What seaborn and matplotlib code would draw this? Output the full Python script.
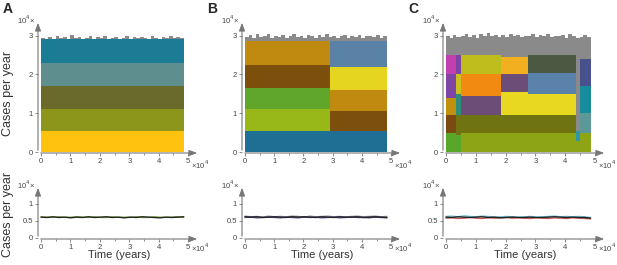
import numpy as np
import matplotlib
matplotlib.use("Agg")
import matplotlib.pyplot as plt
import seaborn as sns

# ---------------- data (units of 10^4) ----------------
# time grid of the simulations (x 10^4 years)
t_grid = np.linspace(0, 4.85, 40)

# jagged upper envelope of the stacked areas
a_top = [2.95, 2.92, 2.97, 2.90, 2.99, 2.93, 2.96, 2.91, 3.02, 2.94, 2.97, 2.90, 2.95,
         2.98, 2.92, 2.96, 2.93, 2.99, 2.91, 2.95, 2.97, 2.92, 2.94, 2.98, 2.90, 2.96,
         2.93, 2.97, 2.95, 2.91, 2.98, 2.94, 2.92, 2.97, 2.95, 2.99, 2.93, 2.96, 2.94, 2.95]
b_top = [2.97, 3.01, 2.95, 3.03, 2.96, 2.99, 3.04, 2.94, 3.00, 2.97, 3.02, 2.95, 2.99,
         3.03, 2.96, 3.00, 2.94, 3.02, 2.98, 2.95, 3.01, 2.97, 3.03, 2.96, 2.99, 2.93,
         2.98, 3.01, 2.95, 2.99, 2.97, 3.02, 2.94, 2.98, 3.00, 2.96, 3.01, 2.95, 2.98, 2.96]
c_top = [2.98, 2.94, 3.02, 2.96, 3.00, 3.05, 2.97, 3.01, 2.95, 3.03, 2.98, 3.06, 2.99,
         3.02, 2.96, 3.01, 2.97, 3.04, 2.99, 3.02, 2.96, 3.00, 2.98, 3.03, 2.97, 3.01,
         2.99, 3.04, 2.96, 3.00, 2.98, 3.02, 2.95, 3.05, 3.00, 2.93, 2.95, 3.01, 2.97, 2.95]

# panel A: one regime over the whole run
a_edges = [0.0, 4.85]
a_thick = [[0.55, 0.57, 0.58, 0.60, 0.60]]
a_cols = [["#FFC20E", "#8C961A", "#6A6A2A", "#5F8E8E", "#1C7C96"]]

# panel B: switch at 2.9e4 years
b_edges = [0.0, 2.9, 4.85]
b_thick = [[0.55, 0.55, 0.55, 0.60, 0.60],
           [0.55, 0.50, 0.55, 0.60, 0.65]]
b_cols = [["#1F6F95", "#98B81A", "#5FA62A", "#7C4F0C", "#BF8A0F"],
          ["#1F6F95", "#7C4F0C", "#BF8A0F", "#E5D520", "#5A82A6"]]

# panel C: several regimes
c_edges = [0.0, 0.35, 0.5, 1.85, 2.75, 4.35, 4.5, 4.85]
c_thick = [[0.50, 0.45, 0.45, 0.60, 0.50],
           [0.45, 0.50, 0.55, 0.50, 0.50],
           [0.50, 0.45, 0.50, 0.55, 0.50],
           [0.50, 0.45, 0.60, 0.45, 0.45],
           [0.50, 0.45, 0.55, 0.55, 0.45],
           [0.30, 0.25],
           [0.50, 0.50, 0.70, 0.70]]
c_cols = [["#5AA62A", "#7B4A10", "#C0900F", "#7F45A5", "#C23FAE"],
          ["#5AA62A", "#6F7312", "#2F8C7A", "#C9C21E", "#7F45A5"],
          ["#8DA414", "#6F7312", "#6B4D78", "#F28A12", "#BDBE1E"],
          ["#8DA414", "#6F7312", "#E8D81F", "#6B4D78", "#F2B020"],
          ["#8DA414", "#6F7312", "#E8D81F", "#5A82AA", "#4B5943"],
          ["#8DA414", "#2F98A8"],
          ["#8DA414", "#5C9898", "#188C9C", "#48508E"]]

# bottom row: total cases of each serotype (x 10^4)
bt = np.linspace(0, 4.85, 25)
a_lines = {
    "#8FB84A": [0.62, 0.61, 0.60, 0.62, 0.60, 0.61, 0.62, 0.61, 0.60, 0.62, 0.60, 0.60, 0.62,
                0.60, 0.61, 0.60, 0.62, 0.60, 0.60, 0.62, 0.61, 0.60, 0.61, 0.62, 0.60],
    "#222222": [0.61, 0.60, 0.62, 0.60, 0.61, 0.59, 0.61, 0.60, 0.62, 0.60, 0.61, 0.62, 0.60,
                0.61, 0.59, 0.61, 0.60, 0.62, 0.61, 0.60, 0.59, 0.61, 0.60, 0.61, 0.62],
}
b_lines = {
    "#999999": [0.64, 0.62, 0.63, 0.61, 0.64, 0.62, 0.63, 0.62, 0.64, 0.63, 0.61, 0.64, 0.62,
                0.63, 0.64, 0.62, 0.63, 0.61, 0.63, 0.64, 0.62, 0.63, 0.64, 0.62, 0.63],
    "#5A4A9A": [0.60, 0.61, 0.59, 0.60, 0.61, 0.60, 0.59, 0.61, 0.60, 0.59, 0.61, 0.60, 0.61,
                0.59, 0.60, 0.61, 0.59, 0.60, 0.61, 0.60, 0.60, 0.59, 0.61, 0.60, 0.59],
    "#222222": [0.62, 0.61, 0.62, 0.60, 0.61, 0.62, 0.61, 0.60, 0.62, 0.61, 0.62, 0.61, 0.60,
                0.62, 0.61, 0.60, 0.62, 0.61, 0.61, 0.62, 0.60, 0.61, 0.62, 0.61, 0.60],
}
c_lines = {
    "#6FC6D8": [0.63, 0.64, 0.62, 0.65, 0.63, 0.62, 0.64, 0.63, 0.61, 0.62, 0.63, 0.62, 0.61,
                0.62, 0.63, 0.61, 0.62, 0.63, 0.64, 0.62, 0.63, 0.62, 0.63, 0.62, 0.60],
    "#C85A5A": [0.58, 0.59, 0.57, 0.58, 0.60, 0.58, 0.57, 0.59, 0.58, 0.59, 0.60, 0.58, 0.59,
                0.58, 0.57, 0.59, 0.58, 0.57, 0.59, 0.58, 0.57, 0.59, 0.58, 0.57, 0.56],
    "#222222": [0.61, 0.60, 0.62, 0.61, 0.60, 0.61, 0.62, 0.60, 0.61, 0.59, 0.60, 0.61, 0.60,
                0.60, 0.61, 0.60, 0.60, 0.61, 0.62, 0.61, 0.60, 0.61, 0.60, 0.60, 0.58],
}

GRAY = "#8A8A8A"
AX = "#777777"

sns.set_theme(style="white")
plt.rcParams["font.family"] = ["Liberation Sans", "DejaVu Sans"]

fig = plt.figure(figsize=(6.17, 2.65), dpi=100)
W, H = 617, 265


def style_axes(ax, w_px):
    for s in ax.spines.values():
        s.set_visible(False)
    arrow = dict(arrowstyle="-|>,head_length=0.4,head_width=0.15", color=AX, lw=0.8)
    ax.annotate("", xy=(1, 0), xytext=(0, 0), xycoords="axes fraction", arrowprops=arrow)
    ax.annotate("", xy=(0, 1), xytext=(0, 0), xycoords="axes fraction", arrowprops=arrow)
    ax.set_xlim(-0.1, 5.4)
    ax.set_xticks([0, 1, 2, 3, 4, 5])
    ax.set_xticks([0.5, 1.5, 2.5, 3.5, 4.5], minor=True)
    ax.tick_params(axis="both", which="both", direction="out", length=2, width=0.6,
                   color=AX, labelsize=5.5, labelcolor="#444444", pad=1.5,
                   bottom=True, left=True)
    ax.tick_params(axis="both", which="minor", length=1.2)
    ax.text(-0.02, 1.0, "10$^4$×", transform=ax.transAxes, ha="right", va="center",
            fontsize=5.5, color="#444444")
    ax.text(1.0 - 9 / w_px, -0.04, "×10$^4$", transform=ax.transAxes, ha="left",
            va="top", fontsize=5.5, color="#444444")


def draw_stack(ax, edges, thick, cols, top):
    top = np.asarray(top)
    for k in range(len(edges) - 1):
        lo, hi = edges[k], edges[k + 1]
        m = (t_grid >= lo - 1e-9) & (t_grid <= hi + 1e-9)
        tt = np.concatenate([[lo], t_grid[m], [hi]])
        tops = np.concatenate([[np.interp(lo, t_grid, top)], top[m],
                               [np.interp(hi, t_grid, top)]])
        base = 0.0
        for h, c in zip(thick[k], cols[k]):
            ax.fill_between(tt, base, base + h, color=c, lw=0, step="post")
            base += h
        ax.fill_between(tt, base, tops, color=GRAY, lw=0, step="post")


panels = [
    ("A", 38, 162, a_edges, a_thick, a_cols, a_top, a_lines),
    ("B", 242, 161, b_edges, b_thick, b_cols, b_top, b_lines),
    ("C", 443, 164, c_edges, c_thick, c_cols, c_top, c_lines),
]

for i, (letter, x0, w, edges, thick, cols, top, lines) in enumerate(panels):
    ax = fig.add_axes([x0 / W, (H - 153) / H, w / W, 133 / H])
    draw_stack(ax, edges, thick, cols, top)
    ax.set_ylim(-0.02, 3.4)
    ax.set_yticks([0, 1, 2, 3])
    style_axes(ax, w)
    fig.text((x0 - 35) / W, 1 - 2 / H, letter, fontsize=10, fontweight="bold",
             va="top", ha="left")

    bx = fig.add_axes([x0 / W, (H - 239) / H, w / W, 54 / H])
    for c, vals in lines.items():
        sns.lineplot(x=bt, y=vals, color=c, lw=1.0, ax=bx)
    bx.set_ylim(-0.03, 1.55)
    bx.set_yticks([0, 0.5, 1])
    bx.set_yticklabels(["0", "0.5", "1"])
    style_axes(bx, w)
    bx.set_xlabel("Time (years)", fontsize=8, color="#333333")
    bx.xaxis.set_label_coords(0.5, -0.2)
    if i == 0:
        ax.set_ylabel("Cases per year", fontsize=9, color="#333333")
        ax.yaxis.set_label_coords(-0.15, 0.45)
        bx.set_ylabel("Cases per year", fontsize=9, color="#333333")
        bx.yaxis.set_label_coords(-0.15, 0.45)
    else:
        bx.set_ylabel("")

fig.savefig("out.png", dpi=100)
